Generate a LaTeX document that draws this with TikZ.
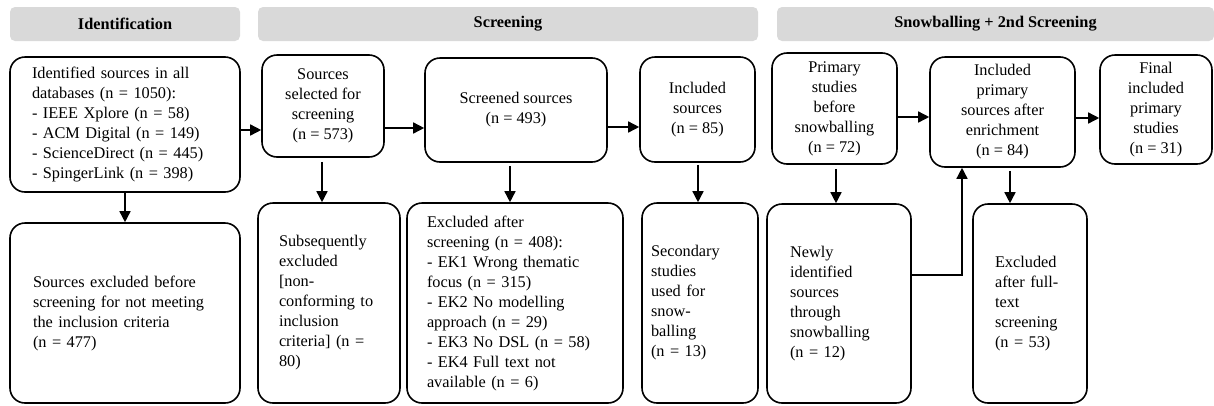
\documentclass[tikz,border=0pt]{standalone}
\usepackage{fontspec}
\setmainfont{Liberation Serif}
\usetikzlibrary{arrows.meta}
\tikzset{phase/.style={fill=black!15, rounded corners=5pt, minimum height=34, font=\fontsize{16.3}{20}\selectfont\bfseries},
  stage/.style={draw, line width=1.6pt, rounded corners=15pt, align=center, font=\fontsize{16.3}{20}\selectfont},
  note/.style={stage, align=left},
  flow/.style={line width=1.5pt, -{Triangle[length=11pt,width=11pt]}}}

\begin{document}
\begin{tikzpicture}[x=1pt,y=-1pt]
  \useasboundingbox (0,0) rectangle (1214,405);
  % phase headers
  \node[phase, minimum width=230] (hident) at (125,24) {Identification};
  \node[phase, minimum width=500] (hscreen) at (508,24) {Screening};
  \node[phase, minimum width=437] (hsnow) at (995.5,24) {Snowballing + 2nd Screening};
  % upper row
  \node[note, text width=186, inner xsep=22, minimum height=135] (ident) at (125,124.5)
    {Identified sources in all\\databases (n = 1050):\\- IEEE Xplore (n = 58)\\- ACM Digital (n = 149)\\- ScienceDirect (n = 445)\\- SpingerLink (n = 398)};
  \node[stage, minimum width=122, minimum height=102] (selected) at (323,106)
    {Sources\\selected for\\screening\\(n = 573)};
  \node[stage, minimum width=182, minimum height=104] (screened) at (516,110)
    {Screened sources\\(n = 493)};
  \node[stage, minimum width=115, minimum height=105] (included) at (697.5,109.5)
    {Included\\sources\\(n = 85)};
  \node[stage, minimum width=125, minimum height=111] (primary) at (834.5,108.5)
    {Primary\\studies\\before\\snowballing\\(n = 72)};
  \node[stage, minimum width=145, minimum height=110] (enriched) at (1002.5,112)
    {Included\\primary\\sources after\\enrichment\\(n = 84)};
  \node[stage, minimum width=112, minimum height=109] (final) at (1156,109.5)
    {Final\\included\\primary\\studies\\(n = 31)};
  % lower row
  \node[note, text width=184, inner xsep=23, minimum height=180] (exbefore) at (125,313)
    {Sources excluded before\\screening for not meeting\\the inclusion criteria\\(n = 477)};
  \node[note, text width=100, inner xsep=21, minimum height=200] (exsub) at (329,303)
    {Subsequently\\excluded\\{[}non-\\conforming to\\inclusion\\criteria] (n =\\80)};
  \node[note, text width=176, inner xsep=20, minimum height=200] (exscreen) at (515,303)
    {Excluded after\\screening (n = 408):\\- EK1 Wrong thematic\\focus (n = 315)\\- EK2 No modelling\\approach (n = 29)\\- EK3 No DSL (n = 58)\\- EK4 Full text not\\available (n = 6)};
  \node[note, text width=98, inner xsep=9, minimum height=200] (secondary) at (700,303)
    {Secondary\\studies\\used for\\snow-\\balling\\(n = 13)};
  \node[note, text width=98, inner xsep=23, minimum height=199] (newly) at (839,303.5)
    {Newly\\identified\\sources\\through\\snowballing\\(n = 12)};
  \node[note, text width=70, inner xsep=22, minimum height=199] (exfull) at (1030,303.5)
    {Excluded\\after full-\\text\\screening\\(n = 53)};
  % connectors
  \draw[flow] (ident.east |- 0,130) -- (selected.west |- 0,130);
  \draw[flow] (selected.east |- 0,128) -- (screened.west |- 0,128);
  \draw[flow] (screened.east |- 0,127) -- (included.west |- 0,127);
  \draw[flow] (primary.east |- 0,117) -- (enriched.west |- 0,117);
  \draw[flow] (enriched.east |- 0,118) -- (final.west |- 0,118);
  \draw[flow] (ident) -- (exbefore);
  \draw[flow, shorten <=4pt] (selected.south -| 322,0) -- (exsub.north -| 322,0);
  \draw[flow, shorten <=3pt] (screened.south -| 510,0) -- (exscreen.north -| 510,0);
  \draw[flow, shorten <=2pt] (included.south -| 698,0) -- (secondary.north -| 698,0);
  \draw[flow, shorten <=4pt] (primary.south -| 836,0) -- (newly.north -| 836,0);
  \draw[flow, shorten <=3pt] (enriched.south -| 1010,0) -- (exfull.north -| 1010,0);
  \draw[flow] (newly.east |- 0,275) -| (enriched.south -| 962,0);
\end{tikzpicture}
\end{document}
